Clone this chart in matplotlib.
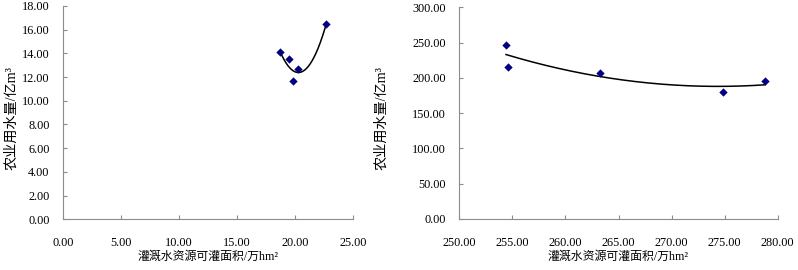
"""
灌溉可灌面积与农业用水量关系散点图（含二次趋势线）。
"""
import numpy as np
import matplotlib
matplotlib.use("Agg")
import matplotlib.pyplot as plt
from matplotlib.ticker import FormatStrFormatter

# 左图数据
area_left = [18.73, 19.50, 19.85, 20.31, 22.72]
water_left = [14.09, 13.50, 11.65, 12.71, 16.48]

# 右图数据
area_right = [254.4, 254.6, 263.3, 274.8, 278.8]
water_right = [247.0, 216.0, 207.0, 180.0, 195.0]

xlabel = "灌溉水资源可灌面积/万hm²"
ylabel = "农业用水量/亿m³"

plt.rcParams['font.family'] = ['Liberation Serif', 'Noto Sans CJK SC']

AXIS_GREY = '#8c8c8c'
MARKER_COLOR = '#000080'


def draw_panel(ax, xs, ys, xlim, ylim, xstep, ystep, ylabel_x):
    ax.scatter(xs, ys, marker='D', s=18, color=MARKER_COLOR, zorder=3, linewidths=0)

    # 二次多项式趋势线
    coef = np.polyfit(xs, ys, 2)
    xx = np.linspace(min(xs), max(xs), 200)
    ax.plot(xx, np.polyval(coef, xx), color='black', linewidth=1.1, zorder=2)

    ax.set_xlim(*xlim)
    ax.set_ylim(*ylim)
    ax.set_xticks(np.arange(xlim[0], xlim[1] + xstep / 2, xstep))
    ax.set_yticks(np.arange(ylim[0], ylim[1] + ystep / 2, ystep))
    ax.xaxis.set_major_formatter(FormatStrFormatter('%.2f'))
    ax.yaxis.set_major_formatter(FormatStrFormatter('%.2f'))

    for side in ('top', 'right'):
        ax.spines[side].set_visible(False)
    for side in ('left', 'bottom'):
        ax.spines[side].set_color(AXIS_GREY)
        ax.spines[side].set_linewidth(0.8)

    ax.tick_params(axis='both', direction='in', length=3, width=0.8,
                   color=AXIS_GREY, labelsize=8.8)
    ax.tick_params(axis='x', pad=13)
    ax.tick_params(axis='y', pad=9.5)

    ax.set_xlabel(xlabel, fontsize=8.6, labelpad=1)
    ax.set_ylabel(ylabel, fontsize=10.2)
    ax.yaxis.set_label_coords(ylabel_x, 0.475)


fig = plt.figure(figsize=(7.98, 2.70), dpi=100)
ax1 = fig.add_axes([0.0786, 0.188, 0.3634, 0.790])
ax2 = fig.add_axes([0.5756, 0.189, 0.3990, 0.784])

draw_panel(ax1, area_left, water_left, (0, 25), (0, 18), 5, 2, -0.154)
draw_panel(ax2, area_right, water_right, (250, 280), (0, 300), 5, 50, -0.222)

fig.savefig('out.png', dpi=100)
plt.close(fig)
